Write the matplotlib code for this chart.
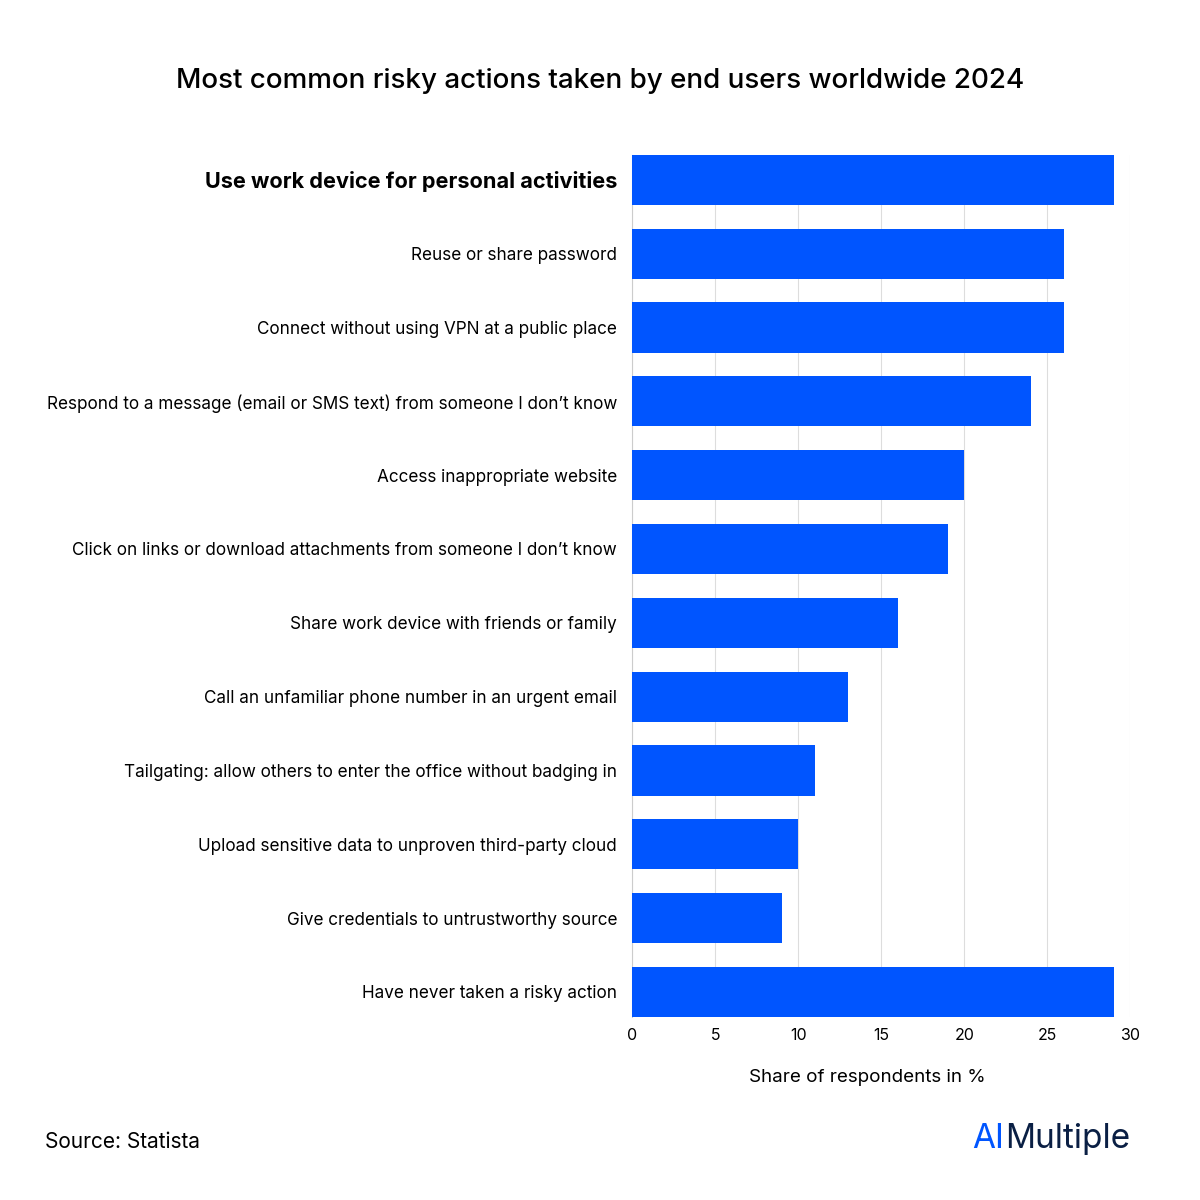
import matplotlib
matplotlib.use("Agg")
import matplotlib.pyplot as plt

categories = [
    "Use work device for personal activities",
    "Reuse or share password",
    "Connect without using VPN at a public place",
    "Respond to a message (email or SMS text) from someone I don\u2019t know",
    "Access inappropriate website",
    "Click on links or download attachments from someone I don\u2019t know",
    "Share work device with friends or family",
    "Call an unfamiliar phone number in an urgent email",
    "Tailgating: allow others to enter the office without badging in",
    "Upload sensitive data to unproven third-party cloud",
    "Give credentials to untrustworthy source",
    "Have never taken a risky action",
]
values = [29, 26, 26, 24, 20, 19, 16, 13, 11, 10, 9, 29]
xticks = [0, 5, 10, 15, 20, 25, 30]

plt.rcParams["font.family"] = "Inter"
fig = plt.figure(figsize=(12, 12), dpi=100)
ax = fig.add_axes([0.527, 0.1525, 0.415, 0.7185])
h = 0.68
ys = list(range(len(categories)))
ax.barh(ys, values, height=h, color="#0055FF", zorder=3)
ax.set_ylim(len(categories) - 1 + h / 2, -h / 2)
ax.set_xlim(0, 30)
ax.set_xticks(xticks)
ax.set_xticklabels([str(t) for t in xticks], fontsize=11.5)
ax.set_yticks(ys)
ax.set_yticklabels(categories, fontsize=12.3)
ax.get_yticklabels()[0].set_fontweight("bold")
ax.get_yticklabels()[0].set_fontsize(15.6)
ax.tick_params(axis="y", length=0, pad=11)
ax.tick_params(axis="x", length=0, pad=8)
ax.grid(axis="x", color="#dddddd", linewidth=0.8, zorder=0)
for s in ["top", "right", "bottom"]:
    ax.spines[s].set_visible(False)
ax.spines["left"].set_color("#cccccc")
ax.set_xlabel("Share of respondents in %", fontsize=13.5)
ax.xaxis.set_label_coords(0.472, -0.06)
fig.text(0.5, 0.927, "Most common risky actions taken by end users worldwide 2024",
         ha="center", fontsize=20, fontweight="medium")
fig.text(0.0375, 0.043, "Source: Statista", fontsize=15)
fig.text(0.81, 0.043, "AI", fontsize=24, color="#0055FF")
fig.text(0.838, 0.043, "Multiple", fontsize=24, color="#0a1f44")
fig.savefig("out.png", dpi=100, facecolor="white")
